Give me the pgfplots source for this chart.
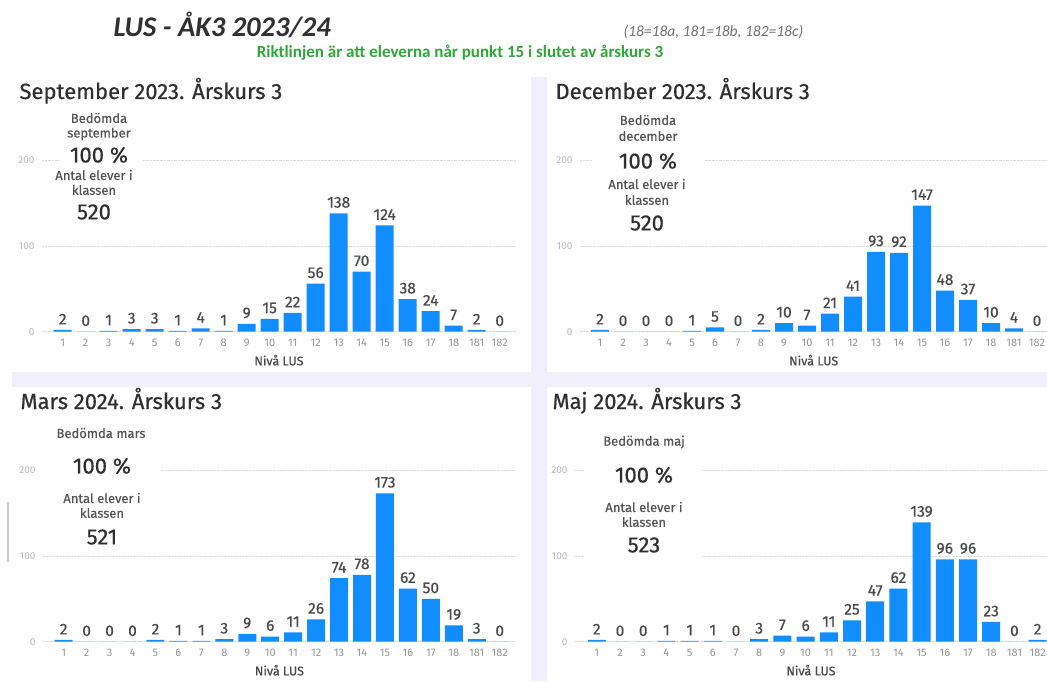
\documentclass[border=0pt]{standalone}
\usepackage{pgfplots}
\pgfplotsset{compat=1.18}
\usepackage{fontspec}
\setmainfont{Fira Sans}
\newfontfamily\hdr{Carlito}
\newfontfamily\med[FakeBold=0.5]{Fira Sans}

\definecolor{barblue}{HTML}{118DFF}
\definecolor{lav}{HTML}{F0EFF9}
\definecolor{titlec}{HTML}{303030}
\definecolor{lblc}{HTML}{4A4A4A}
\definecolor{tickc}{HTML}{959595}
\definecolor{ytickc}{HTML}{B8B8B8}
\definecolor{gridc}{HTML}{DADADA}
\definecolor{kpic}{HTML}{555555}
\definecolor{greenc}{HTML}{2EA836}

\pgfplotsset{
  /pgf/number format/assume math mode=true,
  panel/.style={
    anchor=south west, x=23pt, y=0.858pt,
    ymin=0, ymax=215, enlargelimits=false, clip=false,
    axis line style={draw=none}, major tick length=0pt,
    ytick={0,100,200}, xtick={0,...,19},
    xticklabels={1,2,3,4,5,6,7,8,9,10,11,12,13,14,15,16,17,18,181,182},
    ymajorgrids, grid style={densely dotted, gridc, line width=0.7pt},
    yticklabel style={font=\fontsize{10}{10}\selectfont, text=ytickc, xshift=-4pt},
    xticklabel style={font=\fontsize{11}{11}\selectfont, text=tickc, anchor=base, yshift=-14.6pt},
    xlabel={Nivå LUS},
    xlabel style={font=\med\fontsize{12.5}{12.5}\selectfont, text=lblc,
      at={(axis description cs:0.5,0)}, anchor=center, yshift=-28.5pt},
    ybar, bar width=18pt,
    nodes near coords,
    every node near coord/.append style={font=\med\fontsize{15.5}{15.5}\selectfont, text=lblc, yshift=2pt},
  },
  bars/.style={fill=barblue, draw=none},
}

\begin{document}
\begin{tikzpicture}[x=1pt,y=1pt]
\fill[white] (0,0) rectangle (1047,681);
\fill[lav] (531,0) rectangle (547,604);
\fill[lav] (12,294) rectangle (1047,309);
\draw[black!20, line width=1.2pt] (8,119) -- (8,179);

% header
\node[anchor=base west, text=titlec, font=\hdr\bfseries\itshape\fontsize{28.5}{28.5}\selectfont] at (110,644) {LUS - ÅK3 2023/24};
\node[anchor=base west, text=black!55, font=\hdr\itshape\fontsize{15.5}{15.5}\selectfont] at (620,644) {(18=18a, 181=18b, 182=18c)};
\node[anchor=base, text=greenc, font=\hdr\bfseries\fontsize{17}{17}\selectfont] at (460,623) {Riktlinjen är att eleverna når punkt 15 i slutet av årskurs 3};

% September
\begin{axis}[panel, at={(42pt,349.3pt)}, xmin=-0.9, xmax=19.7]
\addplot[bars] coordinates {(0,2) (1,0) (2,1) (3,3) (4,3) (5,1) (6,4) (7,1) (8,9) (9,15)
 (10,22) (11,56) (12,138) (13,70) (14,124) (15,38) (16,24) (17,7) (18,2) (19,0)};
\end{axis}
% December
\begin{axis}[panel, at={(580pt,349.3pt)}, xmin=-0.87, xmax=19.45]
\addplot[bars] coordinates {(0,2) (1,0) (2,0) (3,0) (4,1) (5,5) (6,0) (7,2) (8,10) (9,7)
 (10,21) (11,41) (12,93) (13,92) (14,147) (15,48) (16,37) (17,10) (18,4) (19,0)};
\end{axis}
% Mars
\begin{axis}[panel, x=22.95pt, at={(43pt,39.3pt)}, xmin=-0.9, xmax=19.7]
\addplot[bars] coordinates {(0,2) (1,0) (2,0) (3,0) (4,2) (5,1) (6,1) (7,3) (8,9) (9,6)
 (10,11) (11,26) (12,74) (13,78) (14,173) (15,62) (16,50) (17,19) (18,3) (19,0)};
\end{axis}
% Maj
\begin{axis}[panel, x=23.2pt, at={(575pt,39.3pt)}, xmin=-0.94, xmax=19.4]
\addplot[bars] coordinates {(0,2) (1,0) (2,0) (3,1) (4,1) (5,1) (6,0) (7,3) (8,7) (9,6)
 (10,11) (11,25) (12,47) (13,62) (14,139) (15,96) (16,96) (17,23) (18,0) (19,2)};
\end{axis}

% panel titles
\begin{scope}[every node/.style={anchor=base west, text=titlec, font=\med\fontsize{22}{22}\selectfont}]
\node at (16,582) {September 2023. Årskurs 3};
\node at (552,582) {December 2023. Årskurs 3};
\node at (17,272) {Mars 2024. Årskurs 3};
\node at (549,272) {Maj 2024. Årskurs 3};
\end{scope}

% KPI cards
\fill[white] (60,449) rectangle (142,571);
\fill[white] (592,446) rectangle (705,569);
\fill[white] (40,133) rectangle (160,261);
\fill[white] (585,116) rectangle (702,256);
\tikzset{lab/.style={text=kpic, font=\med\fontsize{13}{13}\selectfont, inner sep=0pt},
         big/.style={text=titlec, font=\med\fontsize{22}{22}\selectfont, inner sep=0pt}}
\node[lab] at (99,563) {Bedömda};
\node[lab] at (99,547) {september};
\node[big] at (99,526) {100 \%};
\node[lab] at (94,506) {Antal elever i};
\node[lab] at (94,491) {klassen};
\node[big] at (94,469) {520};

\node[lab] at (648,561) {Bedömda};
\node[lab] at (648,545) {december};
\node[big] at (648,520) {100 \%};
\node[lab] at (647,497) {Antal elever i};
\node[lab] at (647,481) {klassen};
\node[big] at (647,458) {520};

\node[lab] at (101,248) {Bedömda mars};
\node[big] at (102,215) {100 \%};
\node[lab] at (102,183) {Antal elever i};
\node[lab] at (102,168) {klassen};
\node[big] at (102,144) {521};

\node[lab] at (644,239) {Bedömda maj};
\node[big] at (644,206) {100 \%};
\node[lab] at (644,174) {Antal elever i};
\node[lab] at (644,159) {klassen};
\node[big] at (644,136) {523};

\pgfresetboundingbox
\path[use as bounding box] (0,0) rectangle (1047,681);
\end{tikzpicture}
\end{document}
